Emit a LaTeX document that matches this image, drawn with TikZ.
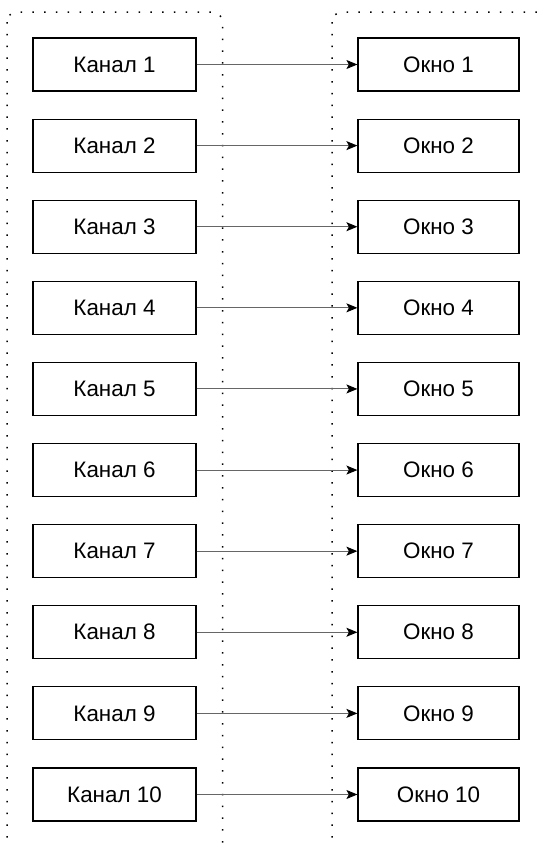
\documentclass[tikz,border=0pt]{standalone}
\usepackage{fontspec}
\setmainfont{Liberation Sans}
\usetikzlibrary{arrows.meta}
\tikzset{
  container/.style={draw=black, line width=1.5pt, dash pattern=on 1.5pt off 10.3pt, rounded corners=10pt},
  chanbox/.style={draw=black, line width=1.2pt, minimum width=163pt, minimum height=53pt, inner sep=0pt, font=\fontsize{22.4}{26}\selectfont},
  winbox/.style={draw=black, line width=1.2pt, minimum width=161pt, minimum height=53pt, inner sep=0pt, font=\fontsize{22.4}{26}\selectfont},
  conn/.style={draw=black!60, line width=1pt, -{Stealth[length=11pt,width=9pt,inset=2.5pt,fill=black,color=black]}}
}
\begin{document}
\begin{tikzpicture}[x=1pt,y=-1pt]
\useasboundingbox (0,0) rectangle (544,846);
\begin{scope}
\clip (0,0) rectangle (544,846);
\draw[container] (7,12) rectangle (222.5,854);
\draw[container] (332,12) rectangle (548,854);
\end{scope}
\foreach \i in {1,...,10} {
  \pgfmathsetmacro{\yy}{64.5+(\i-1)*81.11}
  \node[chanbox] (k\i) at (114.5,\yy) {Канал \i};
  \node[winbox] (o\i) at (438.5,\yy) {Окно \i};
  \draw[conn] (k\i) -- (o\i);
}
\end{tikzpicture}
\end{document}
